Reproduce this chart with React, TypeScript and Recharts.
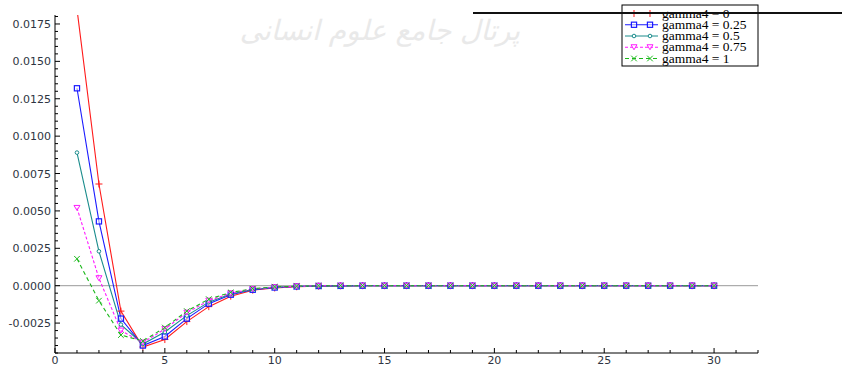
import { LineChart, Line, XAxis, YAxis, ReferenceLine } from 'recharts'

const steps = [1, 2, 3, 4, 5, 6, 7, 8, 9, 10, 11, 12, 13, 14, 15, 16, 17, 18, 19, 20, 21, 22, 23, 24, 25, 26, 27, 28, 29, 30]

const gamma0 = [0.0185, 0.0068, -0.0017, -0.0041, -0.0036, -0.0024, -0.0014, -0.0007, -0.0003, -0.00015, -0.00007, -0.00003, -0.00001, 0, 0, 0, 0, 0, 0, 0, 0, 0, 0, 0, 0, 0, 0, 0, 0, 0]
const gamma025 = [0.0132, 0.0043, -0.0022, -0.004, -0.0034, -0.0022, -0.0012, -0.0006, -0.00027, -0.00012, -0.00005, -0.00002, -0.00001, 0, 0, 0, 0, 0, 0, 0, 0, 0, 0, 0, 0, 0, 0, 0, 0, 0]
const gamma05 = [0.0089, 0.0023, -0.0026, -0.0039, -0.0031, -0.002, -0.0011, -0.00055, -0.00025, -0.0001, -0.00004, -0.00002, -0.00001, 0, 0, 0, 0, 0, 0, 0, 0, 0, 0, 0, 0, 0, 0, 0, 0, 0]
const gamma075 = [0.0052, 0.0005, -0.003, -0.0038, -0.0029, -0.0018, -0.001, -0.0005, -0.00022, -0.0001, -0.00004, -0.00001, 0, 0, 0, 0, 0, 0, 0, 0, 0, 0, 0, 0, 0, 0, 0, 0, 0, 0]
const gamma1 = [0.0018, -0.001, -0.0033, -0.0037, -0.0028, -0.0017, -0.0009, -0.00045, -0.0002, -0.00008, -0.00003, -0.00001, 0, 0, 0, 0, 0, 0, 0, 0, 0, 0, 0, 0, 0, 0, 0, 0, 0, 0]

const seriesNames = ['gamma4 = 0', 'gamma4 = 0.25', 'gamma4 = 0.5', 'gamma4 = 0.75', 'gamma4 = 1']

const xTicks = Array.from({ length: 33 }, (_, i) => i)
const yTicks = Array.from({ length: 46 }, (_, i) => Math.round((-0.0045 + i * 0.0005) * 10000) / 10000)

const data = steps.map((s, i) => ({
  step: s,
  g0: gamma0[i],
  g025: gamma025[i],
  g05: gamma05[i],
  g075: gamma075[i],
  g1: gamma1[i],
}))

const RED = '#ff1a1a'
const BLUE = '#1a1aff'
const TEAL = '#1a8c8c'
const MAGENTA = '#ff1aff'
const GREEN = '#1ab81a'

type Mark = 'plus' | 'square' | 'circle' | 'tri' | 'cross'

function marker(kind: Mark, cx: number, cy: number, color: string, key?: any) {
  if (cx == null || cy == null) return <g key={key} />
  switch (kind) {
    case 'plus':
      return (
        <g key={key} stroke={color} strokeWidth={1}>
          <line x1={cx - 3.5} x2={cx + 3.5} y1={cy} y2={cy} />
          <line x1={cx} x2={cx} y1={cy - 3.5} y2={cy + 3.5} />
        </g>
      )
    case 'square':
      return <rect key={key} x={cx - 2.6} y={cy - 2.6} width={5.2} height={5.2} fill="#fff" fillOpacity={0.5} stroke={color} strokeWidth={1.2} />
    case 'circle':
      return <circle key={key} cx={cx} cy={cy} r={1.8} fill="#fff" stroke={color} strokeWidth={1} />
    case 'tri':
      return <path key={key} d={`M${cx - 3},${cy - 2.5} L${cx + 3},${cy - 2.5} L${cx},${cy + 2.5} Z`} fill="#fff" fillOpacity={0.4} stroke={color} strokeWidth={1} />
    case 'cross':
      return (
        <g key={key} stroke={color} strokeWidth={1}>
          <line x1={cx - 2.8} x2={cx + 2.8} y1={cy - 2.8} y2={cy + 2.8} />
          <line x1={cx - 2.8} x2={cx + 2.8} y1={cy + 2.8} y2={cy - 2.8} />
        </g>
      )
  }
}

const series: { key: string; color: string; mark: Mark; dash?: string }[] = [
  { key: 'g0', color: RED, mark: 'plus' },
  { key: 'g025', color: BLUE, mark: 'square' },
  { key: 'g05', color: TEAL, mark: 'circle' },
  { key: 'g075', color: MAGENTA, mark: 'tri', dash: '3 2' },
  { key: 'g1', color: GREEN, mark: 'cross', dash: '4 3' },
]

const tickFont = { fontFamily: 'DejaVu Sans', fontSize: 11, fill: '#2e3442' }

function XTick(props: any) {
  const { x, y, payload } = props
  const v = payload.value
  const major = v % 5 === 0
  return (
    <g>
      <line x1={x} x2={x} y1={y} y2={y - (major ? 5 : 3)} stroke="#000" />
      {major && v <= 30 && (
        <text x={x} y={y + 11} textAnchor="middle" {...tickFont}>
          {v}
        </text>
      )}
    </g>
  )
}

function YTick(props: any) {
  const { x, y, payload } = props
  const v = payload.value
  const r = v / 0.0025
  const major = Math.abs(r - Math.round(r)) < 1e-6
  return (
    <g>
      <line x1={x} x2={x + (major ? 5 : 3)} y1={y} y2={y} stroke="#000" />
      {major && v >= -0.0026 && v <= 0.0176 && (
        <text x={x - 4} y={y + 4} textAnchor="end" {...tickFont}>
          {v.toFixed(4)}
        </text>
      )}
    </g>
  )
}

function LegendBox() {
  return (
    <svg width={138} height={63} style={{ position: 'absolute', left: 621, top: 4 }}>
      <rect x={1} y={1} width={136} height={61} fill="#fff" stroke="#000" strokeWidth={1} />
      {series.map((s, i) => {
        const cy = 9.5 + i * 11.25
        return (
          <g key={s.key}>
            <line x1={4} x2={37} y1={cy} y2={cy} stroke={s.color} strokeWidth={1} strokeDasharray={s.dash} />
            {marker(s.mark, 13, cy, s.color)}
            {marker(s.mark, 29, cy, s.color)}
            <text x={41} y={cy + 4} fontFamily="Liberation Serif" fontSize={13.5} fill="#000">
              {seriesNames[i]}
            </text>
          </g>
        )
      })}
    </svg>
  )
}

export default function App() {
  return (
    <div style={{ position: 'absolute', left: 0, top: 0, width: 842, height: 366, background: '#fff', overflow: 'hidden' }}>
      <div
        style={{
          position: 'absolute',
          left: 250,
          top: 14,
          width: 270,
          textAlign: 'center',
          direction: 'rtl',
          whiteSpace: 'nowrap',
          fontFamily: 'DejaVu Sans',
          fontSize: 28,
          fontStyle: 'italic',
          color: '#e9e9e9',
        }}
      >
        پرتال جامع علوم انسانی
      </div>
      <div style={{ position: 'absolute', left: 0, top: 0 }}>
        <LineChart width={842} height={366} data={data} margin={{ top: 15, right: 84, bottom: 0, left: 0 }}>
          <XAxis
            dataKey="step"
            type="number"
            domain={[0, 32]}
            ticks={xTicks}
            interval={0}
            tickSize={0}
            tickMargin={0}
            height={13}
            axisLine={{ stroke: '#000' }}
            tickLine={false}
            tick={<XTick />}
            allowDataOverflow
          />
          <YAxis
            type="number"
            domain={[-0.0045, 0.0181]}
            ticks={yTicks}
            interval={0}
            tickSize={0}
            tickMargin={0}
            width={55}
            axisLine={{ stroke: '#000' }}
            tickLine={false}
            tick={<YTick />}
            allowDataOverflow
          />
          <ReferenceLine y={0} stroke="#999" strokeWidth={1} />
          {series.map((s) => (
            <Line
              key={s.key}
              dataKey={s.key}
              type="linear"
              stroke={s.color}
              strokeWidth={1.1}
              strokeDasharray={s.dash}
              dot={(p: any) => marker(s.mark, p.cx, p.cy, s.color, p.index)}
              activeDot={false}
              isAnimationActive={false}
            />
          ))}
        </LineChart>
      </div>
      <LegendBox />
      <div style={{ position: 'absolute', left: 473, top: 12, width: 369, height: 1.5, background: '#111' }} />
    </div>
  )
}
